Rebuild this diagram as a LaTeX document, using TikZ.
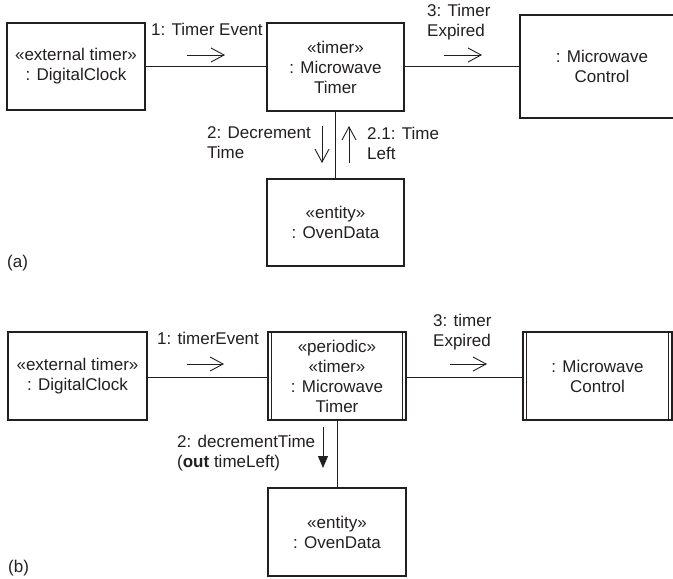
\documentclass[tikz,border=0pt]{standalone}
\usepackage{fontspec}
\setmainfont{Liberation Sans}
\usetikzlibrary{arrows.meta}
\definecolor{ink}{RGB}{35,31,32}
\begin{document}
\begin{tikzpicture}[x=1pt,y=-1pt,
  every node/.style={font=\fontsize{17}{20}\selectfont, text=ink, inner sep=0pt},
  obj/.style={draw=ink, line width=1.4pt, align=center},
  lbl/.style={align=left, anchor=west},
  conn/.style={draw=ink, line width=0.9pt},
  msg/.style={draw=ink, line width=0.9pt, -{Straight Barb[length=13pt,width=14pt,line width=0.9pt]}},
  msgsync/.style={draw=ink, line width=0.9pt, -{Triangle[length=12pt,width=10pt]}}]
\useasboundingbox (0,0) rectangle (673,579);
\clip (0,0) rectangle (673,579);
% ---------- (a) ----------
\node[obj, minimum width=138pt, minimum height=87pt] (clockA) at (76,66.5) {«external timer»\\: DigitalClock};
\node[obj, minimum width=137pt, minimum height=88pt] (timerA) at (335.5,67) {«timer»\\: Microwave\\Timer};
\node[obj, minimum width=164pt, minimum height=103pt] (ctrlA) at (602,66.5) {: Microwave\\Control};
\node[obj, minimum width=137pt, minimum height=87pt] (ovenA) at (335.5,222.5) {«entity»\\: OvenData};
\draw[conn] (clockA.east |- 0,66) -- (timerA.west |- 0,66);
\draw[conn] (timerA.east |- 0,66) -- (ctrlA.west |- 0,66);
\draw[conn] (timerA.south) -- (ovenA.north);
\node[lbl] (m1a) at (151,29) {1: Timer Event};
\coordinate (m1aS) at (187,55); \coordinate (m1aE) at (225,55);
\draw[msg] (m1aS) -- (m1aE);
\node[lbl] (m3a) at (427,22.5) {3: Timer\\Expired};
\coordinate (m3aS) at (444,55); \coordinate (m3aE) at (482,55);
\draw[msg] (m3aS) -- (m3aE);
\node[lbl] (m2a) at (207,143) {2: Decrement\\Time};
\coordinate (m2aS) at (322,126); \coordinate (m2aE) at (322,163);
\draw[msg] (m2aS) -- (m2aE);
\node[lbl] (m21a) at (367,143) {2.1: Time\\Left};
\coordinate (m21aS) at (349,163); \coordinate (m21aE) at (349,126);
\draw[msg] (m21aS) -- (m21aE);
\node[anchor=west] (capA) at (7,263) {(a)};
% ---------- (b) ----------
\node[obj, minimum width=139pt, minimum height=88pt] (clockB) at (77.5,376) {«external timer»\\: DigitalClock};
\node[obj, minimum width=138pt, minimum height=88pt] (timerB) at (337,376) {«periodic»\\«timer»\\: Microwave\\Timer};
\node[obj, minimum width=149pt, minimum height=88pt] (ctrlB) at (597.5,376) {: Microwave\\Control};
\node[obj, minimum width=138pt, minimum height=88pt] (ovenB) at (337,532) {«entity»\\: OvenData};
\foreach \n in {timerB,ctrlB}{
  \draw[ink, line width=1pt] ([xshift=4pt]\n.north west) -- ([xshift=4pt]\n.south west);
  \draw[ink, line width=1pt] ([xshift=-4pt]\n.north east) -- ([xshift=-4pt]\n.south east);
}
\draw[conn] (clockB.east |- 0,377) -- (timerB.west |- 0,377);
\draw[conn] (timerB.east |- 0,377) -- (ctrlB.west |- 0,377);
\draw[conn] (timerB.south) -- (ovenB.north);
\node[lbl] (m1b) at (157,338) {1: timerEvent};
\coordinate (m1bS) at (187,364); \coordinate (m1bE) at (224,364);
\draw[msg] (m1bS) -- (m1bE);
\node[lbl] (m3b) at (433,332) {3: timer\\Expired};
\coordinate (m3bS) at (450,364); \coordinate (m3bE) at (487,364);
\draw[msg] (m3bS) -- (m3bE);
\node[lbl] (m2b) at (177,453) {2: decrementTime\\(\textbf{out} timeLeft)};
\coordinate (m2bS) at (323,427); \coordinate (m2bE) at (323,468);
\draw[msgsync] (m2bS) -- (m2bE);
\node[anchor=west] (capB) at (8,568) {(b)};
\end{tikzpicture}
\end{document}
